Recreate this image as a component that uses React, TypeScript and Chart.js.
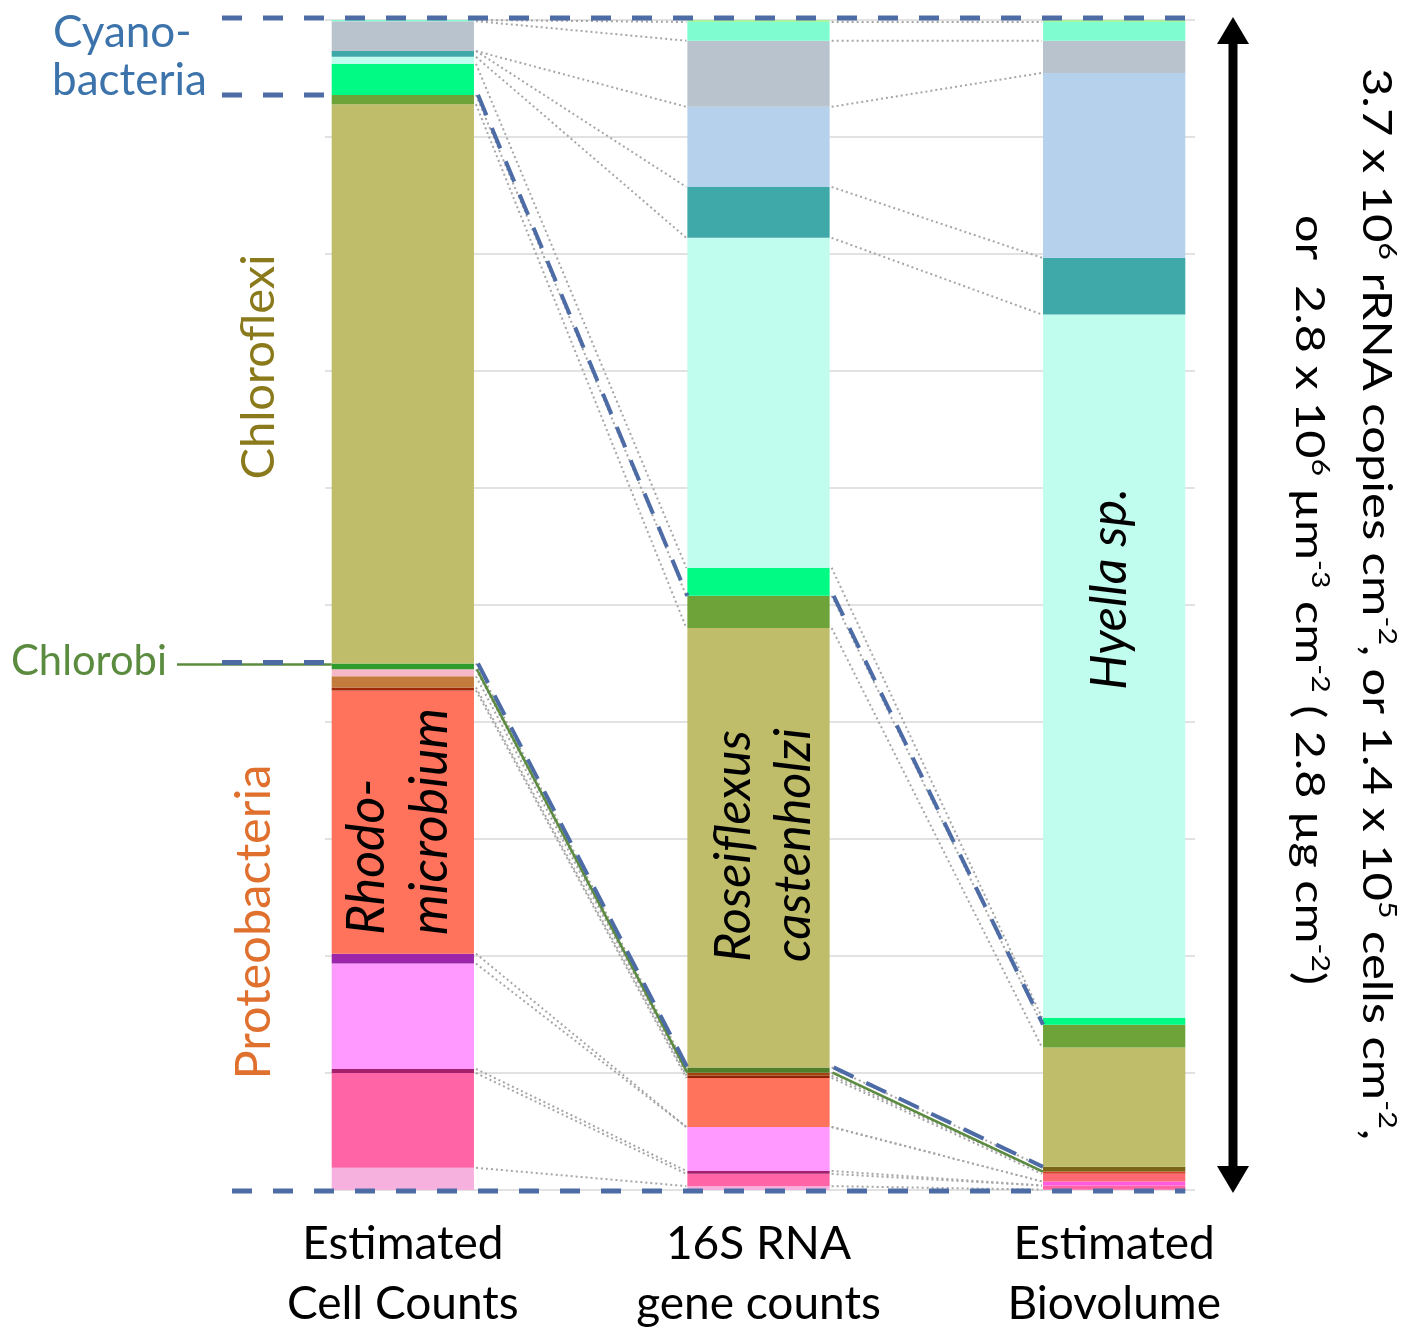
import { useEffect, useRef } from "react";
import { Chart, registerables } from "chart.js";

Chart.register(...registerables);

// Categories (x axis tick labels)
const categories = [
  ["Estimated", "Cell Counts"],
  ["16S RNA", "gene counts"],
  ["Estimated", "Biovolume"],
];

// Percent share of each taxon, listed from the top of each bar downward
// [Cell Counts, 16S RNA, Biovolume]
const topGreen = [0, 0.17, 0.17];
const aquamarine = [0.1, 1.6, 1.6];
const grayTaxon = [2.55, 5.65, 2.75];
const lightBlue = [0, 6.85, 15.8];
const teal = [0.5, 4.35, 4.85];
const hyella = [0.6, 28.2, 60.1];
const brightGreen = [2.65, 2.4, 0.6];
const oliveGreen = [0.8, 2.75, 1.95];
const roseiflexus = [47.8, 37.55, 10.2];
const chlorobi = [0.5, 0.45, 0.4];
const paleRose = [0.6, 0, 0];
const brown = [0.95, 0.25, 0];
const darkRed = [0.25, 0.2, 0.2];
const rhodomicrobium = [22.5, 4.2, 0.65];
const purple = [0.85, 0, 0];
const violet = [9.0, 3.75, 0.35];
const darkMagenta = [0.35, 0.25, 0];
const hotPink = [8.1, 1.05, 0.35];
const lightPink = [1.9, 0.35, 0];

// Gridline values (percent)
const gridValues = [0, 10, 20, 30, 40, 50, 60, 70, 80, 90, 100];

const series = [
  { label: "Cyanobacteria (light green)", data: topGreen, color: "#a8f5a0" },
  { label: "Cyanobacteria (aquamarine)", data: aquamarine, color: "#7ffdd0" },
  { label: "Cyanobacteria (gray)", data: grayTaxon, color: "#b9c3cd" },
  { label: "Cyanobacteria (light blue)", data: lightBlue, color: "#b5d1ec" },
  { label: "Cyanobacteria (teal)", data: teal, color: "#3fa9a9" },
  { label: "Hyella sp.", data: hyella, color: "#c1fdee" },
  { label: "Cyanobacteria (green)", data: brightGreen, color: "#00fa84" },
  { label: "Chloroflexi (green)", data: oliveGreen, color: "#6ea33a" },
  { label: "Roseiflexus castenholzi", data: roseiflexus, color: "#bfbd6a" },
  { label: "Chlorobi", data: chlorobi, color: ["#2d9c2d", "#4f7d2a", "#7a6416"] },
  { label: "Proteobacteria (rose)", data: paleRose, color: "#f6b7c8" },
  { label: "Proteobacteria (brown)", data: brown, color: ["#c47c3c", "#a3420f", "#7a5a10"] },
  { label: "Proteobacteria (dark red)", data: darkRed, color: ["#a02a08", "#8e2204", "#d8402a"] },
  { label: "Rhodomicrobium", data: rhodomicrobium, color: ["#ff735d", "#ff735d", "#ff6a72"] },
  { label: "Proteobacteria (purple)", data: purple, color: "#9b26a9" },
  { label: "Proteobacteria (violet)", data: violet, color: ["#ff98ff", "#ff98ff", "#ff5ae0"] },
  { label: "Proteobacteria (dark magenta)", data: darkMagenta, color: "#a3216c" },
  { label: "Proteobacteria (hot pink)", data: hotPink, color: "#ff64a6" },
  { label: "Proteobacteria (light pink)", data: lightPink, color: "#f7b1df" },
];

const IDX_CYANO_BOTTOM = 7; // boundary after bright green
const IDX_CHLOROFLEXI_BOTTOM = 9; // boundary after olive
const IDX_CHLOROBI_BOTTOM = 10; // boundary after chlorobi

function fitSize(ctx: CanvasRenderingContext2D, text: string, target: number, style: string, family: string) {
  ctx.font = `${style} 100px ${family}`;
  const w = ctx.measureText(text).width;
  return (100 * target) / w;
}

function drawRotated(
  ctx: CanvasRenderingContext2D,
  text: string,
  x: number,
  y: number,
  angle: number,
  font: string,
  color: string,
  align: CanvasTextAlign
) {
  ctx.save();
  ctx.translate(x, y);
  ctx.rotate(angle);
  ctx.font = font;
  ctx.fillStyle = color;
  ctx.textAlign = align;
  ctx.textBaseline = "alphabetic";
  ctx.fillText(text, 0, 0);
  ctx.restore();
}

type Part = [string, boolean];

function drawRich(
  ctx: CanvasRenderingContext2D,
  parts: Part[],
  x: number,
  y: number,
  size: number,
  family: string,
  targetLen: number
) {
  ctx.save();
  ctx.translate(x, y);
  ctx.rotate(Math.PI / 2);
  ctx.fillStyle = "#000";
  ctx.textBaseline = "alphabetic";
  ctx.textAlign = "left";
  let w = 0;
  for (const [t, sup] of parts) {
    ctx.font = `${sup ? size * 0.62 : size}px ${family}`;
    w += ctx.measureText(t).width;
  }
  ctx.scale(targetLen / w, 1);
  let px = 0;
  for (const [t, sup] of parts) {
    ctx.font = `${sup ? size * 0.62 : size}px ${family}`;
    ctx.fillText(t, px, sup ? -size * 0.4 : 0);
    px += ctx.measureText(t).width;
  }
  ctx.restore();
}

function line(ctx: CanvasRenderingContext2D, x1: number, y1: number, x2: number, y2: number) {
  ctx.beginPath();
  ctx.moveTo(x1, y1);
  ctx.lineTo(x2, y2);
  ctx.stroke();
}

const overlay = {
  id: "overlay",
  beforeDatasetsDraw(chart: any) {
    const ctx: CanvasRenderingContext2D = chart.ctx;
    const ys = chart.scales.y;
    ctx.save();
    ctx.strokeStyle = "#d9d9d9";
    ctx.lineWidth = 1.5;
    for (const v of gridValues) {
      const py = ys.getPixelForValue(v);
      line(ctx, 325, py, 1195, py);
    }
    ctx.restore();
  },
  afterDatasetsDraw(chart: any) {
    const ctx: CanvasRenderingContext2D = chart.ctx;
    const ys = chart.scales.y;
    const meta = chart.getDatasetMeta(0);
    const nCat = categories.length;
    const edges = [];
    for (let i = 0; i < nCat; i++) {
      const el = meta.data[i];
      edges.push({ left: el.x - el.width / 2, right: el.x + el.width / 2 });
    }
    // cumulative boundaries
    const cum: number[][] = [];
    for (let i = 0; i < nCat; i++) {
      const arr = [0];
      let s = 0;
      for (const ser of series) {
        s += ser.data[i];
        arr.push(s);
      }
      cum.push(arr);
    }
    const py = (i: number, k: number) => ys.getPixelForValue(Math.min(cum[i][k], 100));

    // dotted connectors
    ctx.save();
    ctx.strokeStyle = "#a6a6a6";
    ctx.lineWidth = 2;
    ctx.setLineDash([2, 3]);
    for (let i = 0; i < nCat - 1; i++) {
      for (let k = 1; k < series.length; k++) {
        line(ctx, edges[i].right + 2, py(i, k), edges[i + 1].left - 1, py(i + 1, k));
      }
    }
    ctx.restore();

    // green Chlorobi line
    ctx.save();
    ctx.strokeStyle = "#5b8b3e";
    ctx.lineWidth = 2.5;
    const yc0 = py(0, IDX_CHLOROBI_BOTTOM - 1) + 1;
    line(ctx, 177, yc0, edges[0].left, yc0);
    for (let i = 0; i < nCat - 1; i++) {
      line(ctx, edges[i].right + 3, py(i, IDX_CHLOROBI_BOTTOM), edges[i + 1].left, py(i + 1, IDX_CHLOROBI_BOTTOM));
    }
    ctx.restore();

    // blue dashed group lines
    ctx.save();
    ctx.strokeStyle = "#4d6ca6";
    ctx.lineWidth = 5;
    ctx.setLineDash([20, 21]);
    const top = ys.getPixelForValue(0) - 2;
    const bottom = ys.getPixelForValue(100) + 1;
    line(ctx, 222, top, edges[nCat - 1].right, top);
    line(ctx, 232, bottom, edges[nCat - 1].right, bottom);
    const yCy = py(0, IDX_CYANO_BOTTOM);
    line(ctx, 222, yCy, edges[0].left, yCy);
    const yCf = py(0, IDX_CHLOROFLEXI_BOTTOM) - 1;
    line(ctx, 222, yCf, edges[0].left, yCf);
    ctx.lineWidth = 4;
    ctx.setLineDash([22, 14]);
    for (let i = 0; i < nCat - 1; i++) {
      line(ctx, edges[i].right + 4, py(i, IDX_CYANO_BOTTOM), edges[i + 1].left, py(i + 1, IDX_CYANO_BOTTOM));
      line(ctx, edges[i].right + 4, py(i, IDX_CHLOROFLEXI_BOTTOM), edges[i + 1].left, py(i + 1, IDX_CHLOROFLEXI_BOTTOM));
    }
    ctx.restore();

    // double arrow
    ctx.save();
    ctx.fillStyle = "#000";
    ctx.strokeStyle = "#000";
    ctx.lineWidth = 9;
    const ax = 1233;
    line(ctx, ax, 40, ax, 1170);
    ctx.beginPath();
    ctx.moveTo(ax, 17);
    ctx.lineTo(ax + 16, 44);
    ctx.lineTo(ax - 16, 44);
    ctx.closePath();
    ctx.fill();
    ctx.beginPath();
    ctx.moveTo(ax, 1193);
    ctx.lineTo(ax + 16, 1166);
    ctx.lineTo(ax - 16, 1166);
    ctx.closePath();
    ctx.fill();
    ctx.restore();

    // texts
    const fam = "Lato";
    ctx.save();
    ctx.textBaseline = "alphabetic";
    ctx.textAlign = "left";
    ctx.fillStyle = "#3c73ab";
    ctx.font = `44px ${fam}`;
    ctx.fillText("Cyano-", 53, 47);
    ctx.fillText("bacteria", 52, 95);
    ctx.fillStyle = "#5b8b3e";
    ctx.font = `${fitSize(ctx, "Chlorobi", 156, "", fam)}px ${fam}`;
    ctx.fillText("Chlorobi", 11, 675);
    ctx.restore();

    const sCf = fitSize(ctx, "Chloroflexi", 225, "", fam);
    drawRotated(ctx, "Chloroflexi", 274, 367, -Math.PI / 2, `${sCf}px ${fam}`, "#8b7a1c", "center");
    const sPr = fitSize(ctx, "Proteobacteria", 315, "", fam);
    drawRotated(ctx, "Proteobacteria", 270, 922, -Math.PI / 2, `${sPr}px ${fam}`, "#e0702e", "center");

    const sRh = fitSize(ctx, "microbium", 227, "italic", fam);
    drawRotated(ctx, "Rhodo-", 384, 935, -Math.PI / 2, `italic ${sRh}px ${fam}`, "#000", "left");
    drawRotated(ctx, "microbium", 447, 935, -Math.PI / 2, `italic ${sRh}px ${fam}`, "#000", "left");
    const sRo = fitSize(ctx, "Roseiflexus", 232, "italic", fam);
    drawRotated(ctx, "Roseiflexus", 750, 962, -Math.PI / 2, `italic ${sRo}px ${fam}`, "#000", "left");
    drawRotated(ctx, "castenholzi", 810, 962, -Math.PI / 2, `italic ${sRo}px ${fam}`, "#000", "left");
    const sHy = fitSize(ctx, "Hyella sp.", 202, "italic", fam);
    drawRotated(ctx, "Hyella sp.", 1126, 690, -Math.PI / 2, `italic ${sHy}px ${fam}`, "#000", "left");

    drawRich(
      ctx,
      [
        ["3.7 x 10", false],
        ["6", true],
        [" rRNA copies cm", false],
        ["-2", true],
        [", or 1.4 x 10", false],
        ["5", true],
        [" cells cm", false],
        ["-2", true],
        [",", false],
      ],
      1363,
      68,
      40,
      fam,
      1072
    );
    drawRich(
      ctx,
      [
        ["or  2.8 x 10", false],
        ["6", true],
        [" \u00b5m", false],
        ["-3", true],
        [" cm", false],
        ["-2", true],
        [" ( 2.8 \u00b5g cm", false],
        ["-2", true],
        [")", false],
      ],
      1296,
      215,
      40,
      fam,
      770
    );
  },
};

export default function App() {
  const ref = useRef<HTMLCanvasElement>(null);
  useEffect(() => {
    document.body.style.margin = "0";
    const canvas = ref.current!;
    const datasets = series.map((s) => ({
      label: s.label,
      data: s.data,
      backgroundColor: s.color,
      borderWidth: 0,
      barPercentage: 0.4,
      categoryPercentage: 1,
    }));
    const chart = new Chart(canvas, {
      type: "bar",
      data: { labels: categories as any, datasets },
      options: {
        animation: false,
        responsive: false,
        devicePixelRatio: 1,
        events: [],
        layout: { padding: { left: 225, right: 132, top: 20, bottom: 0 } },
        plugins: { legend: { display: false }, tooltip: { enabled: false } },
        scales: {
          x: {
            stacked: true,
            grid: { display: false, drawTicks: false },
            border: { display: false },
            ticks: {
              color: "#000",
              font: { family: "Lato", size: 46, lineHeight: 1.3 },
              padding: 24,
              maxRotation: 0,
              autoSkip: false,
            },
            afterFit: (s: any) => {
              s.height = 140;
            },
          },
          y: { stacked: true, min: 0, max: 100, reverse: true, display: false },
        },
      },
      plugins: [overlay],
    } as any);
    return () => chart.destroy();
  }, []);
  return <canvas ref={ref} width={1424} height={1330} style={{ display: "block" }} />;
}
